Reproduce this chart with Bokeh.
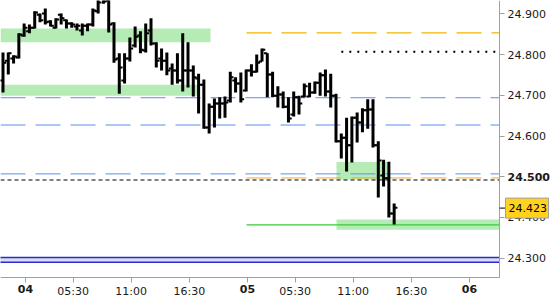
from bokeh.plotting import figure
from bokeh.models import FixedTicker, Range1d, Label, PrintfTickFormatter
from bokeh.core.properties import value
from bokeh.embed import file_html
from bokeh.resources import INLINE

# OHLC bars (30-minute bars)
bar_high = [24.805, 24.805, 24.798, 24.852, 24.876, 24.874, 24.906, 24.901, 24.913, 24.884,
            24.889, 24.901, 24.886, 24.879, 24.876, 24.876, 24.876, 24.913, 24.952, 24.957,
            24.945, 24.879, 24.803, 24.803, 24.842, 24.869, 24.857, 24.876, 24.889, 24.830,
            24.815, 24.805, 24.778, 24.803, 24.852, 24.830, 24.773, 24.753, 24.739, 24.680,
            24.692, 24.695, 24.697, 24.758, 24.744, 24.756, 24.763, 24.776, 24.800, 24.815,
            24.803, 24.758, 24.722, 24.709, 24.695, 24.709, 24.699, 24.729, 24.731, 24.734,
            24.756, 24.763, 24.753, 24.704, 24.606, 24.645, 24.648, 24.658, 24.668, 24.690,
            24.690, 24.587, 24.542, 24.537, 24.434]
bar_low = [24.707, 24.751, 24.778, 24.790, 24.844, 24.852, 24.864, 24.879, 24.874, 24.869,
           24.864, 24.874, 24.864, 24.866, 24.859, 24.847, 24.857, 24.869, 24.901, 24.925,
           24.854, 24.780, 24.704, 24.729, 24.783, 24.817, 24.803, 24.805, 24.822, 24.768,
           24.761, 24.749, 24.726, 24.729, 24.709, 24.719, 24.697, 24.655, 24.618, 24.606,
           24.621, 24.643, 24.645, 24.682, 24.707, 24.682, 24.709, 24.746, 24.756, 24.783,
           24.695, 24.695, 24.670, 24.668, 24.633, 24.648, 24.653, 24.695, 24.695, 24.704,
           24.699, 24.697, 24.670, 24.584, 24.545, 24.513, 24.535, 24.584, 24.609, 24.618,
           24.572, 24.449, 24.476, 24.400, 24.383]
bar_open = [24.736, 24.785, 24.790, 24.793, 24.847, 24.857, 24.866, 24.898, 24.901, 24.881,
            24.866, 24.898, 24.884, 24.876, 24.869, 24.859, 24.871, 24.874, 24.906, 24.945,
            24.933, 24.876, 24.790, 24.736, 24.790, 24.822, 24.847, 24.810, 24.859, 24.827,
            24.790, 24.785, 24.766, 24.761, 24.736, 24.761, 24.761, 24.741, 24.726, 24.621,
            24.672, 24.680, 24.680, 24.687, 24.736, 24.729, 24.712, 24.761, 24.758, 24.783,
            24.803, 24.751, 24.699, 24.702, 24.672, 24.653, 24.695, 24.697, 24.697, 24.707,
            24.731, 24.749, 24.709, 24.699, 24.587, 24.596, 24.577, 24.645, 24.633, 24.663,
            24.665, 24.577, 24.503, 24.496, 24.410]
bar_close = [24.780, 24.803, 24.795, 24.849, 24.866, 24.866, 24.903, 24.884, 24.879, 24.871,
             24.886, 24.889, 24.876, 24.874, 24.871, 24.871, 24.874, 24.908, 24.928, 24.930,
             24.874, 24.788, 24.768, 24.790, 24.815, 24.844, 24.812, 24.852, 24.827, 24.785,
             24.785, 24.761, 24.761, 24.736, 24.761, 24.761, 24.744, 24.726, 24.621, 24.672,
             24.680, 24.680, 24.682, 24.744, 24.729, 24.690, 24.761, 24.758, 24.780, 24.812,
             24.751, 24.699, 24.702, 24.672, 24.643, 24.695, 24.680, 24.722, 24.707, 24.731,
             24.749, 24.709, 24.699, 24.587, 24.596, 24.577, 24.645, 24.633, 24.663, 24.665,
             24.577, 24.540, 24.496, 24.410, 24.424]
bar_index = list(range(len(bar_high)))

# x axis: bar-slot positions of the labelled times
time_tick_pos = [13.25, 24.25, 35.25, 55.25, 66.25, 77.25]
time_tick_labels = ["05:30", "11:00", "16:30", "05:30", "11:00", "16:30"]
day_tick_pos = [4.25, 46.25, 88.25]
day_tick_labels = ["04", "05", "06"]

price_ticks = [24.3, 24.4, 24.5, 24.6, 24.7, 24.8, 24.9]
bold_price_tick = 24.5
last_price = 24.423

# zones and levels
zone_a = (24.830, 24.864, 39.25)          # bottom, top, end slot
zone_b = (24.699, 24.726, 36.75)
zone_c = (24.493, 24.536, 63.09, 72.74)
zone_d = (24.370, 24.395, 63.09)
green_level = 24.382
orange_level_top = 24.853
orange_level_low = 24.497
dotted_level = 24.807
blue_levels = [24.694, 24.627, 24.507]
black_dash_level = 24.492
bottom_band = (24.290, 24.302)
level_start_day2 = 46.07
dotted_start = 64.0

# plotting area: price pane is 499 x 277 px inside a 550 x 300 canvas
X0, X_EDGE = -0.473, 93.93
Y_AXIS, Y1 = 24.2526, 24.9327
SX = 499 / (X_EDGE - X0)
SY = 277 / (Y1 - Y_AXIS)
X_END = X0 + 550 / SX
Y_BOTTOM = Y1 - 300 / SY

p = figure(width=550, height=300, x_range=Range1d(X0, X_END), y_range=Range1d(Y_BOTTOM, Y1),
           y_axis_location="right", toolbar_location=None, output_backend="svg",
           title=None, min_border=0)
p.outline_line_color = None
p.grid.visible = False
p.background_fill_color = "white"
p.border_fill_color = "white"

green_fill = "#b5ebb5"
p.quad(left=[X0, X0], right=[zone_a[2], zone_b[2]], bottom=[zone_a[0], zone_b[0]],
       top=[zone_a[1], zone_b[1]], fill_color=green_fill, line_color=None)
p.quad(left=[zone_c[2], zone_d[2]], right=[zone_c[3], X_EDGE], bottom=[zone_c[0], zone_d[0]],
       top=[zone_c[1], zone_d[1]], fill_color=green_fill, line_color=None)

# bottom band
p.quad(left=[X0 - 1], right=[X_EDGE], bottom=[bottom_band[0]], top=[bottom_band[1]],
       fill_color="#dcdcee", line_color=None)
for lv in bottom_band:
    p.line([X0 - 1, X_EDGE], [lv, lv], line_color="#2a2ad6", line_width=1.5)

for lv in blue_levels:
    p.line([X0, X_EDGE], [lv, lv], line_color="#5b8ff0", line_width=1.0, line_dash="25 10")
p.line([level_start_day2, X_EDGE], [orange_level_top] * 2, line_color="#f5b400",
       line_width=1.3, line_dash="25 10")
p.line([level_start_day2, X_EDGE], [orange_level_low] * 2, line_color="#f0a830",
       line_width=1.0, line_dash="25 10")
p.line([X0, X_EDGE], [black_dash_level] * 2, line_color="black", line_width=1.2, line_dash="4 3")
p.line([dotted_start, X_EDGE], [dotted_level] * 2, line_color="black", line_width=2, line_dash="2 6")
p.line([level_start_day2, X_EDGE], [green_level] * 2, line_color="#3cc83c", line_width=1.3)

# OHLC bars
tick = 0.62
p.segment(x0=bar_index, y0=bar_low, x1=bar_index, y1=bar_high, line_color="black",
          line_width=3, line_cap="butt")
p.segment(x0=[i - tick for i in bar_index], y0=bar_open, x1=bar_index, y1=bar_open,
          line_color="black", line_width=2, line_cap="butt")
p.segment(x0=bar_index, y0=bar_close, x1=[i + tick for i in bar_index], y1=bar_close,
          line_color="black", line_width=2, line_cap="butt")

axis_color = "#a0a0a0"
font = "DejaVu Sans"
for ax in (p.xaxis[0], p.yaxis[0]):
    ax.axis_line_color = axis_color
    ax.major_tick_line_color = axis_color
    ax.minor_tick_line_color = None
    ax.major_tick_out = 5
    ax.major_tick_in = 0
    ax.major_label_text_font = font
    ax.major_label_text_font_size = "11px"
    ax.major_label_text_color = "#1a1a1a"

p.yaxis.ticker = FixedTicker(ticks=price_ticks)
p.yaxis.formatter = PrintfTickFormatter(format="%.3f")
p.yaxis.major_label_standoff = 3
p.yaxis.fixed_location = X_EDGE
p.yaxis.bounds = (Y_AXIS, Y1)

p.xaxis.ticker = FixedTicker(ticks=time_tick_pos + day_tick_pos)
overrides = {pos: lab for pos, lab in zip(time_tick_pos, time_tick_labels)}
overrides.update({pos: "" for pos in day_tick_pos})
p.xaxis.major_label_overrides = overrides
p.xaxis.major_label_standoff = 2
p.xaxis.fixed_location = Y_AXIS
p.xaxis.bounds = (X0, X_EDGE)

for pos, lab in zip(day_tick_pos, day_tick_labels):
    p.add_layout(Label(x=pos, y=Y_AXIS - 7 / SY, text=lab, text_font=font,
                       text_font_size="11px", text_font_style="bold", text_align="center",
                       text_baseline="top", text_color="#1a1a1a"))

p.add_layout(Label(x=X_EDGE + 8 / SX, y=bold_price_tick, text=f"{bold_price_tick:.3f}",
                   text_font=font, text_font_size="11px", text_font_style="bold",
                   text_align="left", text_baseline="middle", text_color="#1a1a1a",
                   background_fill_color="white"))

# last price marker (drawn above the axis labels)
p.segment(x0=[X_EDGE], y0=[last_price], x1=[X_EDGE + 6 / SX], y1=[last_price],
          line_color="black", line_width=1, level="overlay")
p.quad(left=[X_EDGE + 6 / SX], right=[X_EDGE + 49 / SX],
       bottom=[last_price - 10 / SY], top=[last_price + 10 / SY],
       fill_color="#ffd21f", line_color="#a0a0a0", line_width=1, level="overlay")
p.text(x=[X_EDGE + 9 / SX], y=[last_price], text=[f"{last_price:.3f}"],
       text_font=value(font), text_font_size="11px", text_align="left",
       text_baseline="middle", text_color="black", level="overlay")

open("out.html", "w").write(file_html(p, INLINE))
